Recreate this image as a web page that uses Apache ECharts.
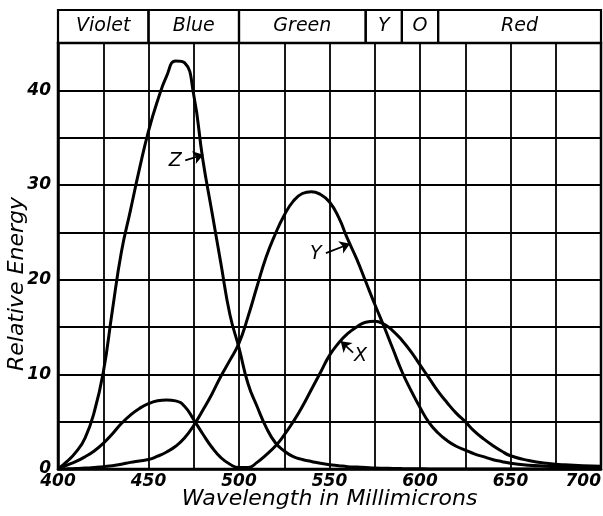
<!DOCTYPE html>
<html><head><meta charset="utf-8">
<script src="https://cdn.jsdelivr.net/npm/echarts@6/dist/echarts.min.js"></script>
<style>html,body{margin:0;padding:0;background:#fff}#c{width:603px;height:516px}</style>
</head><body><div id="c"></div>
<script>
const wavelengths = [400,405,410,415,420,425,430,435,440,445,450,455,460,465,470,475,480,485,490,495,500,505,510,515,520,525,530,535,540,545,550,555,560,565,570,575,580,585,590,595,600,605,610,615,620,625,630,635,640,645,650,660,670,680,690,700];
const xValues = [0,0.4,0.8,1.3,1.9,2.7,3.7,4.8,5.7,6.4,6.9,7.2,7.3,7.2,6.6,5.2,3.7,2.3,1.2,0.5,0.15,0.15,0.7,1.5,2.4,3.6,5.0,6.6,8.4,10.2,12.0,13.3,14.3,15.0,15.5,15.6,15.3,14.6,13.6,12.4,11.0,9.6,8.2,7.0,5.9,5.0,4.0,3.2,2.5,1.9,1.4,0.9,0.6,0.45,0.35,0.3];
const yValues = [0,0.02,0.05,0.1,0.15,0.25,0.35,0.5,0.7,0.85,1.0,1.35,1.8,2.4,3.3,4.6,6.2,7.9,9.8,11.5,13.3,16.1,19.3,22.4,24.8,26.8,28.3,29.1,29.3,29.0,28.2,26.6,24.3,22.2,19.8,17.4,15.1,12.7,10.3,8.3,6.5,4.9,3.8,3.0,2.4,2.0,1.6,1.3,1.0,0.8,0.6,0.4,0.3,0.2,0.15,0.1];
const zValues = [0,0.8,1.8,3.3,6.0,10.2,16.7,22.9,27.3,31.7,35.7,38.9,41.5,43.1,42.9,39.5,32.7,27.2,21.7,16.3,12.8,9.0,6.6,4.4,2.8,1.9,1.3,1.0,0.8,0.6,0.45,0.35,0.25,0.2,0.15,0.1,0.08,0.06,0.04,0.03,0.02,0.01,0.01,0,0,0,0,0,0,0,0,0,0,0,0,0];
const xTicks = [400,450,500,550,600,650,700];
const yTicks = [0,10,20,30,40];
const bandStarts = [400,450,500,570,590,610];
const bandEnds = [450,500,570,590,610,700];
const bandNames = ['Violet','Blue','Green','Y','O','Red'];
const noteNames = ['Z','Y','X'];
const noteTextAt = [[464.8,32.5],[542.5,22.7],[567.1,11.9]];
const noteFrom = [[470.3,32.6],[548,22.8],[563,12.3]];
const noteTo = [[480.3,33.2],[561.3,23.8],[556.2,13.5]];

const FONT = 'DejaVu Sans';
const chart = echarts.init(document.getElementById('c'), null, {renderer:'canvas'});

function curve(name, values, k) {
  return {
    type:'line', name, xAxisIndex:0, yAxisIndex:0,
    data: wavelengths.map((w,i)=>[w, values[i]]),
    smooth:0.5, showSymbol:false, symbol:'none',
    lineStyle:{color:'#000', width:3}, z:5, animation:false,
    markLine:{silent:true, animation:false, symbol:['none','arrow'], symbolSize:10,
      lineStyle:{color:'#000', width:1.7, type:'solid'}, label:{show:false},
      data:[[{coord:noteFrom[k]},{coord:noteTo[k]}]]},
    markPoint:{silent:true, animation:false, symbol:'circle', symbolSize:0,
      label:{show:true, formatter:noteNames[k], color:'#000', fontSize:19, fontStyle:'italic', fontFamily:FONT},
      data:[{coord:noteTextAt[k]}]}
  };
}

const option = {
  animation:false,
  backgroundColor:'#fff',
  grid:[
    {left:58, right:2, top:43, bottom:47, show:true, borderColor:'#000', borderWidth:2.5, containLabel:false, outerBoundsMode:'none'},
    {left:58, right:2, top:10, height:33, show:false, outerBoundsMode:'none'}
  ],
  xAxis:[
    {type:'value', gridIndex:0, min:400, max:700, interval:25,
      axisLine:{show:true, lineStyle:{color:'#000', width:2.5}}, axisTick:{show:false},
      axisLabel:{color:'#000', fontSize:17, fontWeight:'bold', fontStyle:'italic', fontFamily:FONT, margin:4, alignMaxLabel:'right',
        formatter:v=> xTicks.includes(v) ? String(v) : ''},
      splitLine:{show:true, lineStyle:{color:'#000', width:1.8}},
      name:'Wavelength in Millimicrons', nameLocation:'middle', nameGap:19, nameMoveOverlap:false,
      nameTextStyle:{color:'#000', fontSize:22, fontStyle:'italic', fontFamily:FONT}},
    {type:'value', gridIndex:1, min:400, max:700, show:false}
  ],
  yAxis:[
    {type:'value', gridIndex:0, min:0, max:45, interval:5,
      axisLine:{show:true, lineStyle:{color:'#000', width:2.5}}, axisTick:{show:false},
      axisLabel:{color:'#000', fontSize:17, fontWeight:'bold', fontStyle:'italic', fontFamily:FONT, margin:7,
        formatter:v=> yTicks.includes(v) ? String(v) : ''},
      splitLine:{show:true, lineStyle:{color:'#000', width:1.8}},
      name:'Relative Energy', nameLocation:'middle', nameGap:30, nameMoveOverlap:false,
      nameTextStyle:{color:'#000', fontSize:22, fontStyle:'italic', fontFamily:FONT, padding:[0,56,0,0]}},
    {type:'value', gridIndex:1, min:0, max:1, show:false}
  ],
  series:[
    curve('Z', zValues, 0),
    curve('Y', yValues, 1),
    curve('X', xValues, 2),
    {type:'custom', xAxisIndex:1, yAxisIndex:1, clip:false, animation:false,
      data: bandStarts.map((s,i)=>[s, bandEnds[i]]),
      encode:{x:[0,1]},
      renderItem:(params, api)=>{
        const s=api.value(0), e=api.value(1);
        const p0=api.coord([s,1]), p1=api.coord([e,0]);
        return {type:'group', children:[
          {type:'rect', shape:{x:p0[0], y:p0[1], width:p1[0]-p0[0], height:p1[1]-p0[1]},
            style:{fill:'none', stroke:'#000', lineWidth:2.2}},
          {type:'text', style:{text:bandNames[params.dataIndex], x:(p0[0]+p1[0])/2, y:(p0[1]+p1[1])/2,
            align:'center', verticalAlign:'middle', fontSize:19, fontStyle:'italic', fontFamily:FONT, fill:'#000'}}
        ]};
      }}
  ]
};
chart.setOption(option);
</script></body></html>
